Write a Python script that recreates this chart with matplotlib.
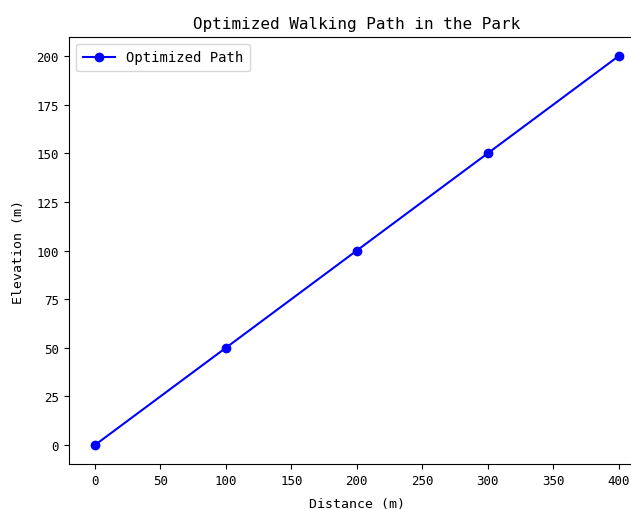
import matplotlib
matplotlib.use("Agg")
import matplotlib.pyplot as plt

# path data
distance = [0, 100, 200, 300, 400]
elevation = [0, 50, 100, 150, 200]

plt.rcParams['font.family'] = ['DejaVu Sans Mono']

fig = plt.figure(figsize=(6.31, 5.10), dpi=100)
ax = fig.add_axes([0.109, 0.0873, 0.913, 0.839])

ax.plot(distance, elevation, color='blue', marker='o', label='Optimized Path')
ax.set_xlim(-20, 420)
ax.set_ylim(-10, 210)
ax.set_xticks(range(0, 401, 50))
ax.set_yticks(range(0, 201, 25))
ax.tick_params(labelsize=9)
ax.set_title("Optimized Walking Path in the Park", fontsize=11.5)
ax.set_xlabel("Distance (m)", fontsize=9.5, labelpad=7)
ax.set_ylabel("Elevation (m)", fontsize=9.5, labelpad=8)
ax.legend(loc='upper left', fontsize=10, handlelength=2.3, borderpad=0.5)

fig.savefig("out.png", dpi=100)
